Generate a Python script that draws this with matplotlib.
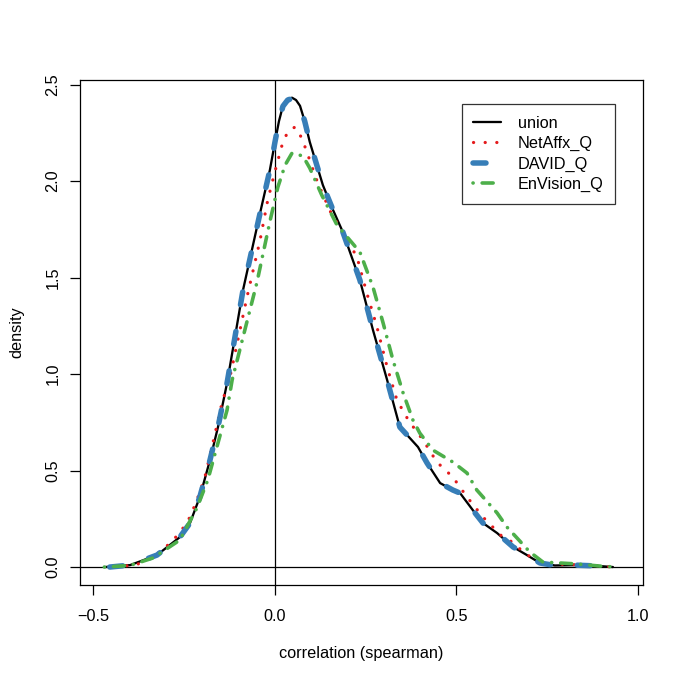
import matplotlib
matplotlib.use("Agg")
import matplotlib.pyplot as plt

plt.rcParams['font.family'] = ['Liberation Sans', 'DejaVu Sans']
plt.rcParams['lines.scale_dashes'] = False

# ---- data ----
union_x = [-0.468, -0.399, -0.325, -0.262, -0.234, -0.207, -0.179, -0.157, -0.132,
           -0.088, -0.041, -0.014, 0.000, 0.011, 0.022, 0.035, 0.047, 0.058, 0.069,
           0.082, 0.096, 0.132, 0.160, 0.187,
           0.234, 0.270, 0.309, 0.344, 0.364, 0.394, 0.419, 0.455, 0.490, 0.510, 0.545,
           0.573, 0.612, 0.656, 0.694, 0.730, 0.771, 0.826, 0.895, 0.931]
union_y = [0.000, 0.010, 0.062, 0.155, 0.228, 0.363, 0.554, 0.725, 0.953,
           1.435, 1.834, 2.057, 2.202, 2.310, 2.390, 2.425, 2.432, 2.420, 2.390,
           2.310, 2.202, 1.979, 1.850, 1.736,
           1.487, 1.228, 0.969, 0.725, 0.684, 0.622, 0.539, 0.435, 0.399, 0.383, 0.295,
           0.228, 0.176, 0.104, 0.062, 0.021, 0.008, 0.010, 0.005, 0.000]

netaffx_x = [-0.440, -0.400, -0.364, -0.309, -0.262, -0.234, -0.215, -0.193, -0.171,
             -0.146, -0.124, -0.077, -0.041, -0.020, 0.000, 0.020, 0.035, 0.055, 0.074,
             0.088, 0.118, 0.157, 0.179, 0.226, 0.253, 0.281, 0.309, 0.336, 0.369,
             0.408, 0.446, 0.490, 0.529, 0.573, 0.622, 0.653, 0.694, 0.758, 0.868, 0.930]
netaffx_y = [0.000, 0.008, 0.021, 0.088, 0.176, 0.259, 0.347, 0.466, 0.642,
             0.850, 0.984, 1.399, 1.694, 1.900, 2.050, 2.190, 2.255, 2.280, 2.223,
             2.150, 1.990, 1.824, 1.762, 1.606, 1.420, 1.244, 1.036, 0.865, 0.756,
             0.658, 0.544, 0.466, 0.363, 0.259, 0.165, 0.130, 0.062, 0.016, 0.010, 0.000]

david_x = [-0.455, -0.399, -0.325, -0.262, -0.234, -0.207, -0.179, -0.157, -0.132,
           -0.088, -0.041, -0.014, 0.000, 0.011, 0.022, 0.035, 0.047, 0.058, 0.069,
           0.082, 0.096, 0.132, 0.160, 0.187,
           0.234, 0.270, 0.309, 0.344, 0.364, 0.394, 0.419, 0.455, 0.490, 0.510, 0.545,
           0.573, 0.612, 0.656, 0.694, 0.730, 0.771, 0.826, 0.895, 0.935]
david_y = [0.000, 0.010, 0.062, 0.155, 0.228, 0.363, 0.554, 0.725, 0.953,
           1.435, 1.834, 2.057, 2.202, 2.310, 2.388, 2.420, 2.428, 2.416, 2.388,
           2.310, 2.202, 1.979, 1.850, 1.736,
           1.487, 1.228, 0.969, 0.725, 0.684, 0.622, 0.539, 0.435, 0.399, 0.383, 0.295,
           0.228, 0.176, 0.104, 0.062, 0.021, 0.008, 0.010, 0.005, 0.000]

envision_x = [-0.470, -0.400, -0.336, -0.262, -0.215, -0.185, -0.160, -0.132, -0.118,
              -0.050, -0.014, 0.008, 0.028, 0.047, 0.077, 0.096, 0.129, 0.171, 0.234,
              0.270, 0.298, 0.325, 0.353, 0.380, 0.399, 0.435, 0.490, 0.529, 0.556,
              0.612, 0.639, 0.668, 0.702, 0.738, 0.832, 0.895, 0.940]
envision_y = [0.000, 0.008, 0.047, 0.140, 0.306, 0.451, 0.622, 0.813, 0.969,
              1.472, 1.790, 1.969, 2.083, 2.145, 2.130, 2.067, 1.927, 1.772, 1.632,
              1.451, 1.264, 1.073, 0.902, 0.762, 0.694, 0.606, 0.544, 0.487, 0.399,
              0.280, 0.207, 0.148, 0.078, 0.026, 0.016, 0.005, 0.000]

labels = ["union", "NetAffx_Q", "DAVID_Q", "EnVision_Q"]
x_ticks = [-0.5, 0.0, 0.5, 1.0]
y_ticks = [0.0, 0.5, 1.0, 1.5, 2.0, 2.5]

# ---- figure ----
fig = plt.figure(figsize=(6.85, 6.85), dpi=100)
ax = fig.add_axes([0.1168, 0.146, 0.822, 0.737])

px = 72.0 / 100.0  # points per pixel

ax.axvline(0, color='black', lw=0.9, zorder=1)
ax.axhline(0, color='black', lw=0.9, zorder=1)

l1, = ax.plot(union_x, union_y, color='black', lw=2.3 * px,
              solid_capstyle='round', solid_joinstyle='round', label=labels[0], zorder=2)
l2, = ax.plot(netaffx_x, netaffx_y, color='#E41A1C', lw=3.2 * px,
              dashes=(0.1, 11.5 * px), dash_capstyle='round', label=labels[1], zorder=3)
l3, = ax.plot(david_x, david_y, color='#377EB8', lw=5.5 * px,
              dashes=(13 * px, 27 * px), dash_capstyle='round', dash_joinstyle='round',
              label=labels[2], zorder=4)
l4, = ax.plot(envision_x, envision_y, color='#4DAF4A', lw=3.6 * px,
              dashes=(0.1, 9 * px, 11 * px, 9 * px), dash_capstyle='round',
              label=labels[3], zorder=5)

ax.set_xlim(-0.537, 1.014)
ax.set_ylim(-0.093, 2.523)
ax.set_xticks(x_ticks)
ax.set_xticklabels([f"{t:.1f}".replace("-", "\u2212") for t in x_ticks])
ax.set_yticks(y_ticks)
ax.set_yticklabels([f"{t:.1f}" for t in y_ticks], rotation=90, va='center')

fs = 11.7
ax.tick_params(axis='both', direction='out', length=10 * px, width=0.9,
               labelsize=fs, color='black')
ax.tick_params(axis='x', pad=10.3)
ax.tick_params(axis='y', pad=7.0)
for s in ax.spines.values():
    s.set_linewidth(0.9)

ax.set_xlabel("correlation (spearman)", fontsize=fs)
ax.xaxis.set_label_coords(0.5, -0.121)
ax.set_ylabel("density", fontsize=fs)
ax.yaxis.set_label_coords(-0.098, 0.5)

leg = ax.legend(handles=[l1, l2, l3, l4], loc='upper left',
                bbox_to_anchor=(0.6785, 0.952), borderaxespad=0,
                fancybox=False, frameon=True, edgecolor='black',
                fontsize=fs, handlelength=1.7, handletextpad=1.05,
                borderpad=0.7, labelspacing=0.33)
leg.get_frame().set_linewidth(0.9)
leg.set_zorder(10)

fig.savefig("out.png", dpi=100, facecolor='white')
